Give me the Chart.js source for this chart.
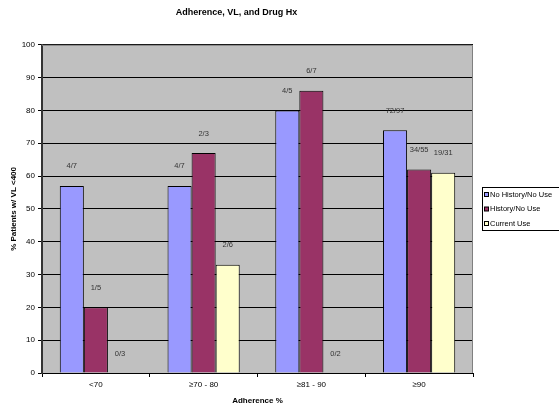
<!DOCTYPE html>
<html>
<head>
<meta charset="utf-8">
<script src="https://cdn.jsdelivr.net/npm/chart.js@4"></script>
<style>
  html, body { margin: 0; padding: 0; background: #fff; }
  #wrap { width: 559px; height: 406px; position: relative; }
</style>
</head>
<body>
<div id="wrap"><canvas id="chart" width="559" height="406"></canvas></div>
<script>
const categories = ['<70', '\u226570 - 80', '\u226581 - 90', '\u226590'];
const seriesNames = ['No History/No Use', 'History/No Use', 'Current Use'];
const noHistory = [57, 57, 80, 74];
const history = [20, 67, 86, 62];
const currentUse = [0, 33, 0, 61];
const noHistoryLabels = ['4/7', '4/7', '4/5', '72/97'];
const historyLabels = ['1/5', '2/3', '6/7', '34/55'];
const currentUseLabels = ['0/3', '2/6', '0/2', '19/31'];
const yTicks = [0, 10, 20, 30, 40, 50, 60, 70, 80, 90, 100];

const colors = ['#9999FF', '#993366', '#FFFFCC'];
const font = 'Liberation Sans, Arial, sans-serif';

// gray plot area with a thin border
const plotBg = {
  id: 'plotBg',
  beforeDraw(chart) {
    const { ctx, chartArea: a } = chart;
    ctx.save();
    ctx.fillStyle = '#C0C0C0';
    ctx.fillRect(a.left, a.top, a.right - a.left, a.bottom - a.top);
    ctx.restore();
  },
  afterDatasetsDraw(chart) {
    const { ctx, chartArea: a } = chart;
    ctx.save();
    ctx.strokeStyle = '#808080';
    ctx.lineWidth = 1;
    ctx.beginPath();
    ctx.moveTo(a.left, a.top + 0.5);
    ctx.lineTo(a.right - 0.5, a.top + 0.5);
    ctx.lineTo(a.right - 0.5, a.bottom);
    ctx.stroke();
    ctx.restore();
  }
};

// fraction labels above each bar
const barLabels = {
  id: 'barLabels',
  afterDatasetsDraw(chart) {
    const { ctx } = chart;
    ctx.save();
    ctx.font = '7.5px ' + font;
    ctx.fillStyle = '#333';
    ctx.textAlign = 'center';
    ctx.textBaseline = 'middle';
    chart.data.datasets.forEach((ds, i) => {
      chart.getDatasetMeta(i).data.forEach((bar, j) => {
        ctx.fillText(ds.fracs[j], bar.x, bar.y - 19.5);
      });
    });
    ctx.restore();
  }
};

// boxed legend on the right
const boxLegend = {
  id: 'boxLegend',
  afterDraw(chart) {
    const { ctx } = chart;
    const x = 482, y = 187, w = 80, h = 43;
    ctx.save();
    ctx.strokeStyle = '#000';
    ctx.lineWidth = 1;
    ctx.strokeRect(x + 0.5, y + 0.5, w, h);
    ctx.font = '7.5px ' + font;
    ctx.textBaseline = 'middle';
    chart.data.datasets.forEach((ds, i) => {
      const cy = y + 7.5 + i * 14.5;
      ctx.fillStyle = ds.backgroundColor;
      ctx.fillRect(x + 2.5, cy - 2, 4, 4);
      ctx.strokeStyle = '#000';
      ctx.strokeRect(x + 2.5, cy - 2, 4, 4);
      ctx.fillStyle = '#000';
      ctx.fillText(ds.label, x + 8, cy);
    });
    ctx.restore();
  }
};

const makeSet = (i, data, fracs) => ({
  label: seriesNames[i],
  data: data,
  fracs: fracs,
  backgroundColor: colors[i],
  borderColor: '#000',
  borderWidth: 1,
  borderSkipped: 'bottom',
  categoryPercentage: 0.67,
  barPercentage: 1
});

new Chart(document.getElementById('chart'), {
  type: 'bar',
  data: {
    labels: categories,
    datasets: [
      makeSet(0, noHistory, noHistoryLabels),
      makeSet(1, history, historyLabels),
      makeSet(2, currentUse, currentUseLabels)
    ]
  },
  options: {
    responsive: false,
    animation: false,
    layout: { padding: { left: 0, right: 86, top: 0, bottom: 0 } },
    plugins: {
      legend: { display: false },
      tooltip: { enabled: false },
      title: {
        display: true,
        text: 'Adherence, VL, and Drug Hx',
        color: '#000',
        font: { family: font, size: 9, weight: 'bold' },
        padding: { top: 7, bottom: 27 }
      }
    },
    scales: {
      x: {
        offset: true,
        grid: { offset: true, drawOnChartArea: false, drawTicks: true, tickLength: 4, color: '#000' },
        border: { color: '#000', width: 1 },
        ticks: { color: '#000', padding: 3, font: { family: font, size: 8 } },
        title: {
          display: true, text: 'Adherence %', color: '#000',
          font: { family: font, size: 8, weight: 'bold' },
          padding: { top: 4, bottom: 0 }
        },
        afterFit(s) { s.height = 33; }
      },
      y: {
        min: 0, max: 100,
        afterBuildTicks(s) { s.ticks = yTicks.map(v => ({ value: v })); },
        grid: { color: '#000', lineWidth: 1, tickLength: 4, tickColor: '#000' },
        border: { color: '#333', width: 2 },
        ticks: { color: '#000', padding: 3, font: { family: font, size: 8 } },
        title: {
          display: true, text: '% Patients w/ VL <400', color: '#000',
          font: { family: font, size: 8, weight: 'bold' },
          padding: { top: 9, bottom: 0 }
        },
        afterFit(s) { s.width = 42; }
      }
    }
  },
  plugins: [plotBg, barLabels, boxLegend]
});
</script>
</body>
</html>
